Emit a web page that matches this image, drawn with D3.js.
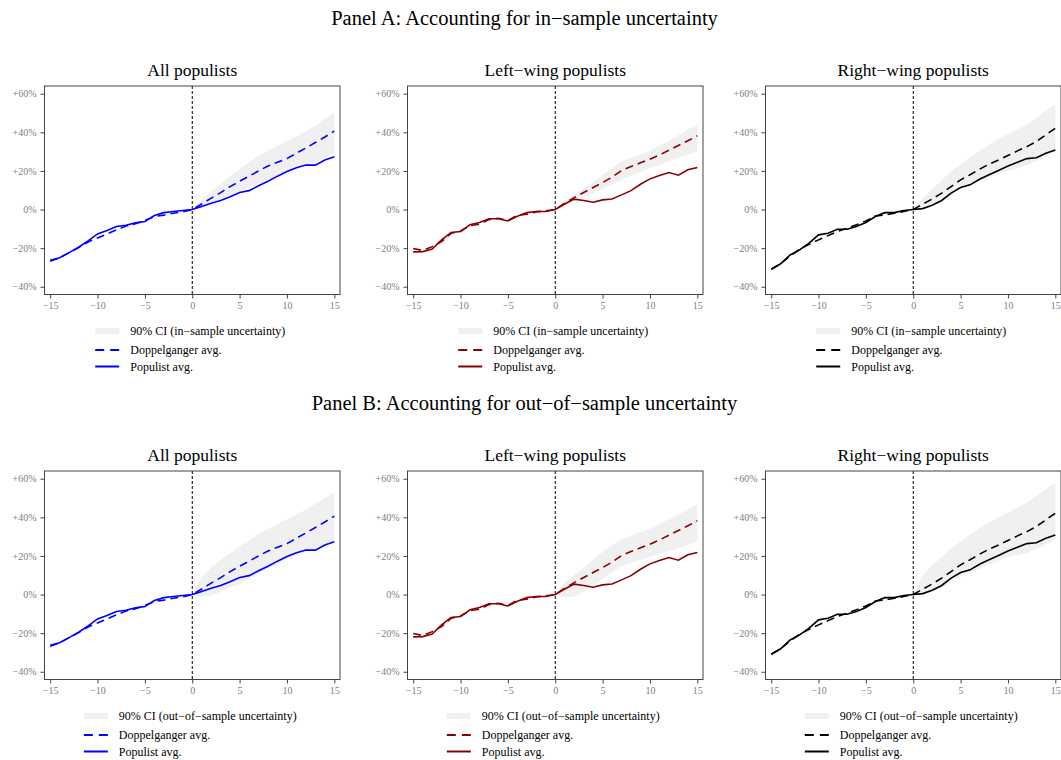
<!DOCTYPE html>
<html>
<head>
<meta charset="utf-8">
<script src="https://cdn.jsdelivr.net/npm/d3@7"></script>
<style>
  body { margin: 0; background: #fff; }
  svg { display: block; }
  text { font-family: "Liberation Serif", "Times New Roman", Times, serif; }
</style>
</head>
<body>
<svg id="chart" width="1061" height="760"></svg>
<script>
// Event time (years relative to populist taking office)
const years = [-15, -14, -13, -12, -11, -10, -9, -8, -7, -6, -5, -4, -3, -2, -1,
               0, 1, 2, 3, 4, 5, 6, 7, 8, 9, 10, 11, 12, 13, 14, 15];
const postYears = [0, 1, 2, 3, 4, 5, 6, 7, 8, 9, 10, 11, 12, 13, 14, 15];

// Real GDP per capita relative to t = 0 (%)
const popAll = [-26.3, -25.0, -22.3, -19.5, -16.2, -12.6, -10.9, -8.8, -8.1, -6.9, -6.2, -3.1, -1.6, -1.0, -0.5,
                0, 1.6, 3.3, 4.7, 6.6, 8.8, 9.8, 12.3, 14.7, 17.3, 19.7, 21.6, 23.1, 23.0, 25.7, 27.3];
const dopAll = [-26.8, -25.0, -22.3, -19.7, -16.8, -14.7, -12.6, -10.5, -8.5, -7.4, -5.7, -3.6, -2.9, -1.9, -1.2,
                0, 2.9, 5.9, 8.8, 11.9, 14.7, 17.3, 20.0, 22.6, 24.5, 26.4, 29.2, 31.9, 34.7, 37.6, 40.6];

const popLeft = [-21.9, -21.8, -20.5, -15.7, -11.9, -11.4, -7.9, -6.7, -4.8, -4.8, -5.9, -3.5, -1.6, -1.0, -1.0,
                 0, 2.9, 5.4, 4.7, 3.8, 5.0, 5.5, 7.6, 9.8, 13.1, 15.9, 17.6, 19.2, 17.8, 20.6, 21.8];
const dopLeft = [-20.2, -21.2, -19.2, -16.6, -12.3, -11.1, -8.3, -7.6, -5.2, -4.5, -5.7, -2.9, -2.4, -1.2, -0.7,
                 0, 3.3, 6.2, 8.8, 11.4, 14.0, 16.8, 20.2, 22.3, 24.2, 26.1, 28.3, 30.7, 33.2, 35.6, 38.2];

const popRight = [-30.9, -28.1, -23.5, -20.9, -17.4, -13.1, -12.3, -10.2, -10.2, -8.8, -6.7, -3.6, -1.6, -1.6, -0.5,
                  0, 0.5, 2.2, 4.7, 8.5, 11.4, 12.8, 15.7, 18.0, 20.2, 22.6, 24.5, 26.4, 26.8, 29.2, 30.9];
const dopRight = [-30.9, -28.1, -24.0, -20.6, -18.0, -15.7, -13.5, -11.4, -9.7, -7.9, -5.9, -3.3, -2.8, -1.9, -1.0,
                  0, 2.8, 5.5, 8.5, 11.9, 15.4, 18.0, 20.9, 23.5, 25.7, 28.0, 30.4, 32.6, 35.2, 38.7, 42.1];

// 90% confidence bands for the doppelganger path (post period), in-sample
const ciInAllLo = [0, 1.5, 3.5, 5.5, 7.5, 9.5, 11.5, 13.5, 15.5, 17.5, 19.5, 21.5, 23.0, 24.5, 27.0, 29.5];
const ciInAllHi = [0, 5.0, 9.5, 13.5, 17.5, 21.0, 24.5, 28.0, 30.5, 33.0, 35.5, 38.0, 40.5, 43.5, 47.0, 50.3];
const ciInLeftLo = [0, 2.5, 4.5, 6.5, 8.5, 10.5, 13.0, 15.5, 17.5, 19.5, 21.5, 23.0, 25.0, 27.0, 28.5, 30.0];
const ciInLeftHi = [0, 4.0, 7.5, 11.0, 14.5, 18.0, 21.5, 25.0, 27.0, 28.5, 30.5, 33.0, 35.5, 38.5, 41.5, 44.0];
const ciInRightLo = [0, 1.0, 3.0, 5.5, 8.5, 11.0, 13.0, 15.0, 17.0, 18.5, 20.0, 21.5, 23.0, 25.0, 27.5, 30.0];
const ciInRightHi = [0, 6.0, 10.5, 15.0, 20.0, 23.5, 27.0, 30.5, 33.5, 36.5, 39.0, 41.5, 44.0, 47.5, 51.5, 54.5];

// 90% confidence bands, out-of-sample
const ciOutAllLo = [0, -1.0, -0.5, 1.5, 3.5, 5.5, 8.0, 11.0, 13.5, 16.0, 18.5, 20.5, 22.0, 23.5, 25.5, 27.5];
const ciOutAllHi = [0, 9.0, 14.0, 18.0, 21.5, 25.0, 28.0, 31.5, 34.0, 36.5, 39.0, 41.5, 44.0, 47.0, 50.0, 53.0];
const ciOutLeftLo = [0, -1.5, -1.0, 1.5, 4.5, 8.0, 11.5, 14.5, 16.5, 18.0, 19.5, 21.0, 22.5, 24.0, 25.5, 27.5];
const ciOutLeftHi = [0, 6.0, 10.0, 14.0, 18.0, 22.0, 25.5, 28.5, 30.5, 32.5, 34.0, 36.5, 39.0, 41.5, 44.0, 46.7];
const ciOutRightLo = [0, 0, 1.5, 3.5, 6.5, 9.5, 11.5, 13.5, 15.5, 17.5, 19.5, 20.5, 21.5, 23.5, 26.0, 28.0];
const ciOutRightHi = [0, 10.0, 15.0, 19.5, 24.0, 27.5, 31.0, 34.5, 37.5, 40.0, 42.5, 45.0, 47.5, 51.0, 54.5, 58.0];

// Axis ticks
const yTicks = [-40, -20, 0, 20, 40, 60];
const yTickLabels = ["\u221240%", "\u221220%", "0%", "+20%", "+40%", "+60%"];
const xTicks = [-15, -10, -5, 0, 5, 10, 15];
const xTickLabels = ["\u221215", "\u221210", "\u22125", "0", "5", "10", "15"];

const groupTitles = ["All populists", "Left\u2212wing populists", "Right\u2212wing populists"];
const groupColors = ["#0000ff", "#8b0000", "#000000"];
const panelTitles = ["Panel A: Accounting for in\u2212sample uncertainty",
                     "Panel B: Accounting for out\u2212of\u2212sample uncertainty"];
const ciLabels = ["90% CI (in\u2212sample uncertainty)", "90% CI (out\u2212of\u2212sample uncertainty)"];
const lineLabels = ["Doppelganger avg.", "Populist avg."];

const groups = [
  { pop: popAll, dop: dopAll, ci: [[ciInAllLo, ciInAllHi], [ciOutAllLo, ciOutAllHi]] },
  { pop: popLeft, dop: dopLeft, ci: [[ciInLeftLo, ciInLeftHi], [ciOutLeftLo, ciOutLeftHi]] },
  { pop: popRight, dop: dopRight, ci: [[ciInRightLo, ciInRightHi], [ciOutRightLo, ciOutRightHi]] }
];

// Layout
const W = 1061;
const plotLefts = [44.5, 407.5, 765.5];
const plotW = 295.5;
const plotTop = 86;
const plotH = 208.5;
const rowOffset = 385;
const bandColor = "#f0f0f0";
const tickColor = "#808080";

const svg = d3.select("#chart");

const x = d3.scaleLinear().domain([-15.6, 15.6]).range([0, plotW]);
const y = d3.scaleLinear().domain([-44, 64]).range([plotH, 0]);

const line = d3.line().x((d, i) => x(years[i])).y(d => y(d));
const band = d3.area()
  .x(d => x(d.t))
  .y0(d => y(d.lo))
  .y1(d => y(d.hi));

panelTitles.forEach((pt, p) => {
  const top = plotTop + p * rowOffset;

  svg.append("text")
    .attr("x", W / 2 - 6)
    .attr("y", 25 + p * rowOffset)
    .attr("text-anchor", "middle")
    .attr("font-size", 20.5)
    .attr("fill", "#000")
    .text(pt);

  groups.forEach((g, k) => {
    const color = groupColors[k];
    const gg = svg.append("g").attr("transform", `translate(${plotLefts[k]},${top})`);

    // confidence band
    const [lo, hi] = g.ci[p];
    const bandData = postYears.map((t, i) => ({ t, lo: lo[i], hi: hi[i] }));
    gg.append("path")
      .attr("d", band(bandData))
      .attr("fill", bandColor)
      .attr("stroke", "none");

    // event-time marker
    gg.append("line")
      .attr("x1", x(0)).attr("x2", x(0))
      .attr("y1", 0).attr("y2", plotH)
      .attr("stroke", "#000")
      .attr("stroke-width", 1)
      .attr("stroke-dasharray", "3,2");

    gg.append("path")
      .attr("d", line(g.dop))
      .attr("fill", "none")
      .attr("stroke", color)
      .attr("stroke-width", 1.6)
      .attr("stroke-dasharray", "8,5");

    gg.append("path")
      .attr("d", line(g.pop))
      .attr("fill", "none")
      .attr("stroke", color)
      .attr("stroke-width", 1.6);

    // frame
    gg.append("rect")
      .attr("x", 0).attr("y", 0)
      .attr("width", plotW).attr("height", plotH)
      .attr("fill", "none")
      .attr("stroke", "#444")
      .attr("stroke-width", 1);

    // axes
    const yAxis = d3.axisLeft(y)
      .tickValues(yTicks)
      .tickSize(4)
      .tickPadding(4)
      .tickFormat((d, i) => yTickLabels[i]);
    const ya = gg.append("g").call(yAxis);
    ya.select(".domain").remove();
    ya.selectAll(".tick line").attr("stroke", "#444");
    ya.selectAll(".tick text")
      .attr("fill", tickColor)
      .attr("font-size", 10)
      .style("font-family", '"Liberation Serif", "Times New Roman", serif');

    const xAxis = d3.axisBottom(x)
      .tickValues(xTicks)
      .tickSize(4)
      .tickPadding(3)
      .tickFormat((d, i) => xTickLabels[i]);
    const xa = gg.append("g").attr("transform", `translate(0,${plotH})`).call(xAxis);
    xa.select(".domain").remove();
    xa.selectAll(".tick line").attr("stroke", "#444");
    xa.selectAll(".tick text")
      .attr("fill", tickColor)
      .attr("font-size", 10)
      .style("font-family", '"Liberation Serif", "Times New Roman", serif');

    // subplot title
    gg.append("text")
      .attr("x", plotW / 2)
      .attr("y", -10)
      .attr("text-anchor", "middle")
      .attr("font-size", 17.5)
      .attr("fill", "#000")
      .text(groupTitles[k]);

    // legend
    const leg = gg.append("g");
    const rowsY = [plotH + 36.5, plotH + 55.5, plotH + 72];
    const labels = [ciLabels[p], lineLabels[0], lineLabels[1]];
    const texts = labels.map((lab, r) =>
      leg.append("text")
        .attr("y", rowsY[r])
        .attr("dy", "0.35em")
        .attr("font-size", 12)
        .attr("fill", "#000")
        .text(lab));
    const maxW = d3.max(texts, t => t.node().getComputedTextLength());
    const swatchW = 24, gap = 11;
    const x0 = plotW / 2 - 2 - (swatchW + gap + maxW) / 2;
    texts.forEach(t => t.attr("x", x0 + swatchW + gap));

    leg.append("line")
      .attr("x1", x0).attr("x2", x0 + swatchW)
      .attr("y1", rowsY[0]).attr("y2", rowsY[0])
      .attr("stroke", bandColor).attr("stroke-width", 6);
    leg.append("line")
      .attr("x1", x0).attr("x2", x0 + swatchW)
      .attr("y1", rowsY[1]).attr("y2", rowsY[1])
      .attr("stroke", color).attr("stroke-width", 2)
      .attr("stroke-dasharray", "9,6");
    leg.append("line")
      .attr("x1", x0).attr("x2", x0 + swatchW)
      .attr("y1", rowsY[2]).attr("y2", rowsY[2])
      .attr("stroke", color).attr("stroke-width", 2);
  });
});
</script>
</body>
</html>
